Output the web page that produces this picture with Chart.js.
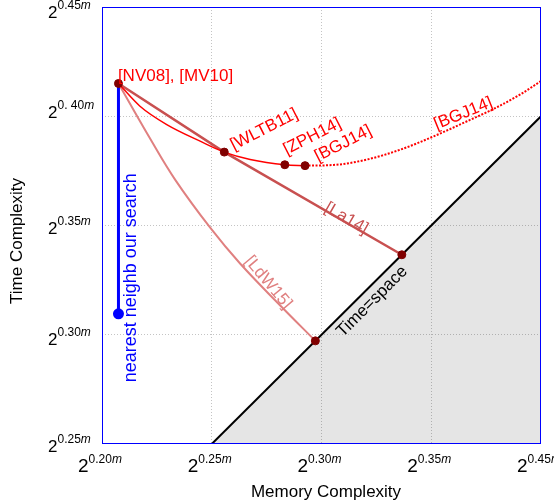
<!DOCTYPE html>
<html>
<head>
<meta charset="utf-8">
<script src="https://cdn.jsdelivr.net/npm/chart.js@4/dist/chart.umd.min.js"></script>
<style>
  body { margin: 0; background: #fff; }
  #wrap { width: 554px; height: 504px; }
</style>
</head>
<body>
<div id="wrap"><canvas id="chart" width="554" height="504"></canvas></div>
<script>
// Axis ticks (exponent of 2, in units of m)
const xTicks = [0.20, 0.25, 0.30, 0.35, 0.40];
const xTickLabels = ['0.20', '0.25', '0.30', '0.35', '0.45'];
const yTicks = [0.25, 0.30, 0.35, 0.40, 0.45];
const yTickLabels = ['0.25', '0.30', '0.35', '0. 40', '0.45'];

// Known results: [memory, time]
const nv08 = [0.2075, 0.4150];
const wltb11 = [0.2557, 0.3836];
const zph14 = [0.2833, 0.3778];
const bgj14 = [0.2925, 0.3774];
const la14 = [0.3366, 0.3366];
const ldw15 = [0.2972, 0.2972];

// Our search: vertical segment below NV08
const ourSearchX = [0.2075, 0.2075];
const ourSearchY = [0.4150, 0.3096];

// Tradeoff curve NV08 -> WLTB11 -> ZPH14 -> BGJ14
const sieveCurveX = [0.2075, 0.2173, 0.2295, 0.2447, 0.2557, 0.2675, 0.2833, 0.2925];
const sieveCurveY = [0.4150, 0.4046, 0.3962, 0.3886, 0.3836, 0.3802, 0.3778, 0.3774];

// BGJ14 continuation (dotted)
const bgjCurveX = [0.2925, 0.3055, 0.3207, 0.3359, 0.3511, 0.3663, 0.3785, 0.3906, 0.4000];
const bgjCurveY = [0.3774, 0.3777, 0.3802, 0.3847, 0.3908, 0.3977, 0.4034, 0.4100, 0.4161];

// La14 tradeoff line
const la14LineX = [0.2075, 0.2557, 0.3366];
const la14LineY = [0.4150, 0.3836, 0.3366];

// LdW15 curve
const ldwCurveX = [0.2075, 0.2219, 0.2333, 0.2492, 0.2629, 0.2812, 0.2972];
const ldwCurveY = [0.4150, 0.3898, 0.3710, 0.3491, 0.3326, 0.3134, 0.2972];

// Time = space
const diagX = [0.25, 0.40];
const diagY = [0.25, 0.40];

const FONT = '"Liberation Sans", Arial, Helvetica, sans-serif';
const RED = '#ff0000';
const DARK = '#800000';
const LA_COLOR = '#c85050';
const LDW_COLOR = '#e08080';
const BLUE = '#0000ff';

// Text labels placed at data coordinates
const notes = [
    { text: '[NV08], [MV10]', x: 0.2335, y: 0.4182, angle: 0, color: RED },
    { text: '[WLTB11]', x: 0.2739, y: 0.3939, angle: -27, color: RED },
    { text: '[ZPH14]', x: 0.2958, y: 0.3907, angle: -27, color: RED },
    { text: '[BGJ14]', x: 0.3099, y: 0.3875, angle: -27, color: RED },
    { text: '[BGJ14]', x: 0.3646, y: 0.4012, angle: -22, color: RED },
    { text: '[La14]', x: 0.3113, y: 0.3532, angle: 30, color: LA_COLOR },
    { text: '[LdW15]', x: 0.2757, y: 0.3239, angle: 50, color: LDW_COLOR },
    { text: 'Time=space', x: 0.3231, y: 0.3152, angle: -45, color: '#000' },
    { text: 'nearest neighb our search', x: 0.2132, y: 0.3261, angle: -90, color: BLUE, size: 18 }
];

const toPoints = (xs, ys) => xs.map((x, i) => ({ x: x, y: ys[i] }));

function drawPower(ctx, x, base, exp, bigSize, align) {
    ctx.font = bigSize + 'px ' + FONT;
    const w2 = ctx.measureText('2').width;
    ctx.font = '12px ' + FONT;
    const wExp = ctx.measureText(exp).width;
    ctx.font = 'italic 12px ' + FONT;
    const wM = ctx.measureText('m').width;
    let left = x;
    if (align === 'center') left = x - (w2 + wExp + wM) / 2;
    ctx.textAlign = 'left';
    ctx.textBaseline = 'alphabetic';
    ctx.font = bigSize + 'px ' + FONT;
    ctx.fillText('2', left, base);
    ctx.font = '12px ' + FONT;
    ctx.fillText(exp, left + w2, base - 9);
    ctx.font = 'italic 12px ' + FONT;
    ctx.fillText('m', left + w2 + wExp, base - 9);
}

const overlay = {
    id: 'overlay',
    afterDraw(chart) {
        const ctx = chart.ctx;
        const xs = chart.scales.x;
        const ys = chart.scales.y;
        const a = chart.chartArea;
        ctx.save();

        // blue frame
        ctx.strokeStyle = BLUE;
        ctx.lineWidth = 1;
        ctx.strokeRect(Math.round(a.left) + 0.5, Math.round(a.top) + 0.5,
            Math.round(a.right - a.left) - 1, Math.round(a.bottom - a.top) - 1);

        // tick labels
        ctx.fillStyle = '#000';
        const yOffsets = [8, 10, 8, 2, 11];
        yTicks.forEach((v, i) => {
            drawPower(ctx, 48, ys.getPixelForValue(v) + yOffsets[i], yTickLabels[i], 17, 'left');
        });
        xTicks.forEach((v, i) => {
            drawPower(ctx, xs.getPixelForValue(v) - 2, 472, xTickLabels[i], 19, 'center');
        });

        // axis titles
        ctx.font = '17px ' + FONT;
        ctx.textAlign = 'center';
        ctx.textBaseline = 'alphabetic';
        ctx.fillText('Memory Complexity', 326, 497);
        ctx.save();
        ctx.translate(22, 241);
        ctx.rotate(-Math.PI / 2);
        ctx.fillText('Time Complexity', 0, 0);
        ctx.restore();

        // annotations
        notes.forEach(n => {
            ctx.save();
            ctx.translate(xs.getPixelForValue(n.x), ys.getPixelForValue(n.y));
            ctx.rotate(n.angle * Math.PI / 180);
            ctx.font = (n.size || 17) + 'px ' + FONT;
            ctx.fillStyle = n.color;
            ctx.textAlign = 'center';
            ctx.textBaseline = 'middle';
            ctx.fillText(n.text, 0, 0);
            ctx.restore();
        });
        ctx.restore();
    }
};

const gridColor = c => (c.index > 0 && c.index < 4) ? '#c4c4c4' : 'rgba(0,0,0,0)';

new Chart(document.getElementById('chart'), {
    type: 'line',
    data: {
        datasets: [
            {
                data: toPoints([nv08[0], wltb11[0], zph14[0], bgj14[0], la14[0], ldw15[0]],
                               [nv08[1], wltb11[1], zph14[1], bgj14[1], la14[1], ldw15[1]]),
                showLine: false,
                pointRadius: 4,
                pointBackgroundColor: DARK,
                pointBorderColor: DARK,
                order: 1
            },
            {
                data: toPoints(ourSearchX, ourSearchY),
                borderColor: BLUE,
                borderWidth: 3,
                pointRadius: [0, 4],
                pointBackgroundColor: BLUE,
                pointBorderColor: BLUE,
                order: 2
            },
            {
                data: toPoints(sieveCurveX, sieveCurveY),
                borderColor: RED,
                borderWidth: 1.5,
                pointRadius: 0,
                cubicInterpolationMode: 'monotone',
                order: 3
            },
            {
                data: toPoints(bgjCurveX, bgjCurveY),
                borderColor: RED,
                borderWidth: 2,
                borderDash: [2, 1.5],
                pointRadius: 0,
                cubicInterpolationMode: 'monotone',
                order: 3
            },
            {
                data: toPoints(la14LineX, la14LineY),
                borderColor: LA_COLOR,
                borderWidth: 2.5,
                pointRadius: 0,
                order: 4
            },
            {
                data: toPoints(ldwCurveX, ldwCurveY),
                borderColor: LDW_COLOR,
                borderWidth: 2,
                pointRadius: 0,
                tension: 0.4,
                order: 5
            },
            {
                data: toPoints(diagX, diagY),
                borderColor: '#000',
                borderWidth: 2,
                pointRadius: 0,
                fill: 'start',
                backgroundColor: 'rgba(0,0,0,0.1)',
                order: 10
            }
        ]
    },
    options: {
        responsive: false,
        animation: false,
        layout: { padding: { left: 102, right: 13, top: 7, bottom: 60 } },
        plugins: {
            legend: { display: false },
            tooltip: { enabled: false }
        },
        scales: {
            x: {
                type: 'linear',
                min: 0.20,
                max: 0.40,
                afterBuildTicks: s => { s.ticks = xTicks.map(v => ({ value: v })); },
                ticks: { display: false },
                grid: { color: gridColor, drawTicks: false, lineWidth: 1 },
                border: { display: false, dash: [1, 2] }
            },
            y: {
                type: 'linear',
                min: 0.25,
                max: 0.45,
                afterBuildTicks: s => { s.ticks = yTicks.map(v => ({ value: v })); },
                ticks: { display: false },
                grid: { color: gridColor, drawTicks: false, lineWidth: 1 },
                border: { display: false, dash: [1, 2] }
            }
        }
    },
    plugins: [overlay]
});
</script>
</body>
</html>
